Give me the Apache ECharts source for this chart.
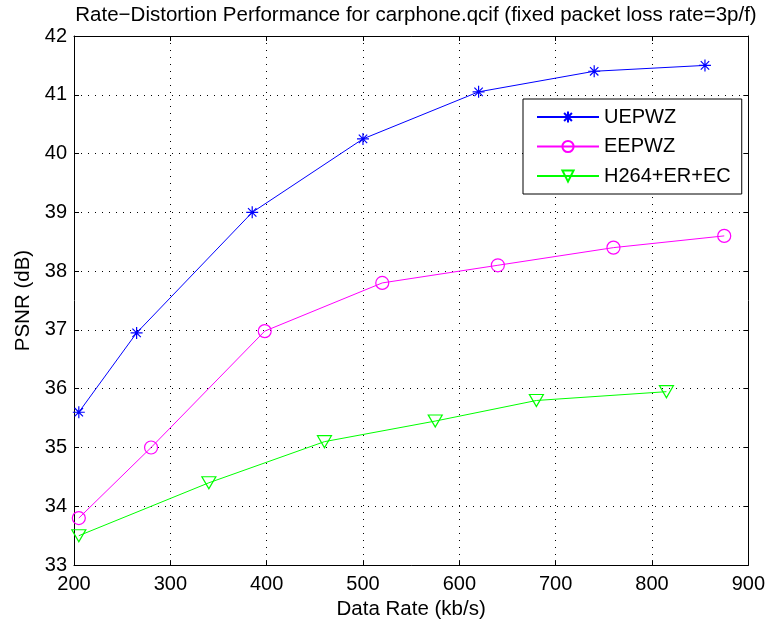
<!DOCTYPE html>
<html>
<head>
<meta charset="utf-8">
<script src="https://cdn.jsdelivr.net/npm/echarts@6/dist/echarts.min.js"></script>
<style>html,body{margin:0;padding:0;background:#fff}#c{width:768px;height:625px}</style>
</head>
<body>
<div id="c"></div>
<script>
const titleText = 'Rate\u2212Distortion Performance for carphone.qcif (fixed packet loss rate=3p/f)';
const xTicks = [200, 300, 400, 500, 600, 700, 800, 900];
const yTicks = [33, 34, 35, 36, 37, 38, 39, 40, 41, 42];
const seriesNames = ['UEPWZ', 'EEPWZ', 'H264+ER+EC'];
const uepwzRate = [205, 265, 385, 500, 620, 740, 855];
const uepwzPsnr = [35.6, 36.95, 39.0, 40.25, 41.05, 41.4, 41.5];
const eepwzRate = [205, 280, 398, 520, 640, 760, 875];
const eepwzPsnr = [33.8, 35.0, 36.98, 37.8, 38.1, 38.4, 38.6];
const h264Rate = [205, 340, 460, 575, 680, 815];
const h264Psnr = [33.5, 34.4, 35.1, 35.45, 35.8, 35.95];

const FONT = 'Liberation Sans, Arial, sans-serif';
const pairs = (xs, ys) => xs.map((x, i) => [x, ys[i]]);
const star = 'path://M0,-10L0,10M-10,0L10,0M-7,-7L7,7M-7,7L7,-7';
const tri = 'path://M-10,-8.5L10,-8.5L0,8.5Z';

const chart = echarts.init(document.getElementById('c'), null, {renderer: 'canvas'});
const axisCommon = {
  axisLine: {show: true, onZero: false, lineStyle: {color: '#000', width: 1}},
  axisTick: {show: true, inside: true, length: 5, lineStyle: {color: '#000'}},
};
chart.setOption({
  animation: false,
  backgroundColor: '#fff',
  title: {
    text: titleText, left: 411, top: 0, textAlign: 'center',
    textStyle: {fontFamily: FONT, fontSize: 20.5, fontWeight: 'normal', color: '#000'}
  },
  grid: {left: 74, right: 19, top: 36, bottom: 56, containLabel: false},
  legend: {
    data: seriesNames, orient: 'vertical', left: 523, top: 99,
    backgroundColor: '#fff', borderColor: '#000', borderWidth: 1,
    padding: [8, 11, 8, 13], itemGap: 9.5, itemWidth: 62, itemHeight: 14,
    textStyle: {fontFamily: FONT, fontSize: 20, color: '#000', lineHeight: 20}
  },
  xAxis: [{
    type: 'value', min: xTicks[0], max: xTicks[xTicks.length - 1], interval: 100,
    name: 'Data Rate (kb/s)', nameLocation: 'middle', nameGap: 32,
    nameTextStyle: {fontFamily: FONT, fontSize: 20.5, color: '#000'},
    ...axisCommon,
    axisLabel: {fontFamily: FONT, fontSize: 20, color: '#000', margin: 9},
    splitLine: {show: true, lineStyle: {color: '#000', width: 1, type: [1, 6]}}
  }, {
    type: 'value', position: 'top', min: xTicks[0], max: xTicks[xTicks.length - 1], interval: 100,
    ...axisCommon, axisLabel: {show: false}, splitLine: {show: false}
  }],
  yAxis: [{
    type: 'value', min: yTicks[0], max: yTicks[yTicks.length - 1], interval: 1,
    name: 'PSNR (dB)', nameLocation: 'middle', nameGap: 33, nameRotate: 90,
    nameTextStyle: {fontFamily: FONT, fontSize: 20.5, color: '#000'},
    ...axisCommon,
    axisLabel: {fontFamily: FONT, fontSize: 20, color: '#000', margin: 7},
    splitLine: {show: true, lineStyle: {color: '#000', width: 1, type: [1, 6]}}
  }, {
    type: 'value', position: 'right', min: yTicks[0], max: yTicks[yTicks.length - 1], interval: 1,
    ...axisCommon, axisLabel: {show: false}, splitLine: {show: false}
  }],
  series: [{
    name: seriesNames[0], type: 'line', data: pairs(uepwzRate, uepwzPsnr),
    symbol: star, symbolSize: 12,
    lineStyle: {color: '#0000ff', width: 1},
    itemStyle: {color: 'rgba(0,0,0,0)', borderColor: '#0000ff', borderWidth: 1.2}
  }, {
    name: seriesNames[1], type: 'line', data: pairs(eepwzRate, eepwzPsnr),
    symbol: 'circle', symbolSize: 13,
    lineStyle: {color: '#ff00ff', width: 1},
    itemStyle: {color: 'rgba(0,0,0,0)', borderColor: '#ff00ff', borderWidth: 1.2}
  }, {
    name: seriesNames[2], type: 'line', data: pairs(h264Rate, h264Psnr),
    symbol: tri, symbolSize: [14, 12],
    lineStyle: {color: '#00ff00', width: 1},
    itemStyle: {color: 'rgba(0,0,0,0)', borderColor: '#00ff00', borderWidth: 1.2}
  }]
});
</script>
</body>
</html>
